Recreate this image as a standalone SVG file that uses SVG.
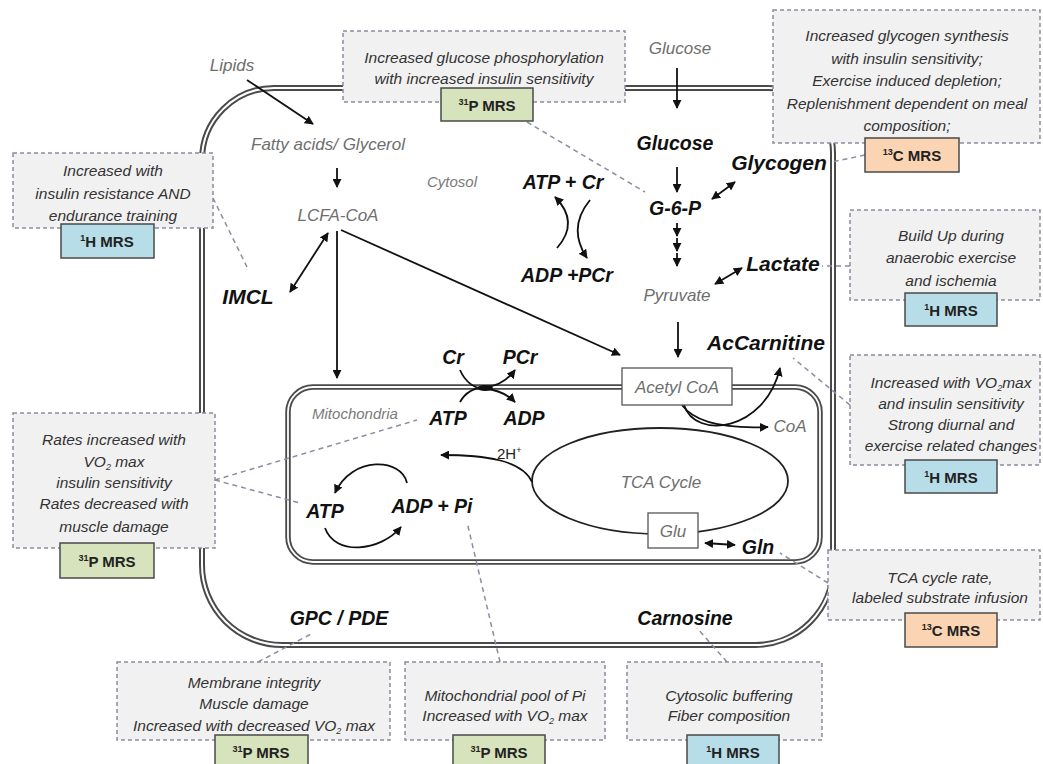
<svg xmlns="http://www.w3.org/2000/svg" width="1043" height="764" viewBox="0 0 1043 764">
<defs>
<marker id="ah" viewBox="0 0 10 10" refX="9" refY="5" markerWidth="5" markerHeight="5" orient="auto-start-reverse" markerUnits="strokeWidth">
<path d="M0,0 L10,5 L0,10 z" fill="#111"/>
</marker>
</defs>
<style>
.mem{fill:none;stroke:#4a4a4a;stroke-width:6}
.memin{fill:none;stroke:#fff;stroke-width:2}
.mito{fill:none;stroke:#4a4a4a;stroke-width:5.5}
.mitoin{fill:none;stroke:#fff;stroke-width:1.8}
.box{fill:#f1f1f1;stroke:#8c8ca0;stroke-width:1.5;stroke-dasharray:4 3}
.bt{font-family:"Liberation Sans",Arial,sans-serif;font-style:italic;font-size:15.5px;fill:#333;text-anchor:middle}
.badge{stroke:#4a4a4a;stroke-width:1.5}
.green{fill:#d6e3bc}
.blue{fill:#b7dde8}
.orange{fill:#fbd4b4}
.bl{font-family:"Liberation Sans",Arial,sans-serif;font-weight:bold;font-size:15px;fill:#222;text-anchor:middle}
.dash{fill:none;stroke:#8c8ca4;stroke-width:1.5;stroke-dasharray:5 4}
.arr{fill:none;stroke:#111;stroke-width:1.8}
.g{font-family:"Liberation Sans",Arial,sans-serif;font-style:italic;font-size:17px;fill:#6e6e6e;text-anchor:middle}
.gs{font-family:"Liberation Sans",Arial,sans-serif;font-style:italic;font-size:15px;fill:#7a7a7a;text-anchor:middle}
.k{font-family:"Liberation Sans",Arial,sans-serif;font-style:italic;font-weight:bold;font-size:19.5px;fill:#111;text-anchor:middle}
.kl{font-size:21px}
.lb{fill:#fff;stroke:#555;stroke-width:1.3}
</style>

<!-- membranes -->
<g id="cell">
<path class="mem" d="M 202 160 A 72 72 0 0 1 274 88 L 768 88 A 65 65 0 0 1 833 153 L 833 567 A 78 78 0 0 1 755 645 L 282 645 A 80 80 0 0 1 202 565 Z"/>
<path class="memin" d="M 202 160 A 72 72 0 0 1 274 88 L 768 88 A 65 65 0 0 1 833 153 L 833 567 A 78 78 0 0 1 755 645 L 282 645 A 80 80 0 0 1 202 565 Z"/>
</g>
<g id="mitochondrion">
<rect class="mito" x="288" y="387" width="532" height="175" rx="25"/>
<rect class="mitoin" x="288" y="387" width="532" height="175" rx="25"/>
<ellipse id="tca" cx="660" cy="481" rx="128" ry="53" fill="none" stroke="#222" stroke-width="1.8"/>
</g>

<!-- connectors -->
<g id="connectors">
<line class="dash" x1="527" y1="122" x2="645" y2="192"/>
<line class="dash" x1="865" y1="155" x2="832" y2="162"/>
<line class="dash" x1="213" y1="198" x2="247" y2="267"/>
<line class="dash" x1="850" y1="266" x2="822" y2="266"/>
<line class="dash" x1="850" y1="405" x2="793" y2="358"/>
<line class="dash" x1="828" y1="583" x2="780" y2="553"/>
<line class="dash" x1="215" y1="480" x2="417" y2="420"/>
<line class="dash" x1="215" y1="480" x2="300" y2="503"/>
<line class="dash" x1="258" y1="662" x2="313" y2="633"/>
<line class="dash" x1="500" y1="662" x2="467" y2="522"/>
<line class="dash" x1="727" y1="662" x2="697" y2="628"/>

<line class="arr" x1="247" y1="80" x2="313" y2="124" marker-end="url(#ah)"/>
<line class="arr" x1="337" y1="168" x2="337" y2="187" marker-end="url(#ah)"/>
<line class="arr" x1="328" y1="233" x2="290" y2="292" marker-start="url(#ah)" marker-end="url(#ah)"/>
<line class="arr" x1="337" y1="231" x2="337" y2="378" marker-end="url(#ah)"/>
<line class="arr" x1="341" y1="230" x2="620" y2="355" marker-end="url(#ah)"/>
<line class="arr" x1="677" y1="68" x2="677" y2="108" marker-end="url(#ah)"/>
<line class="arr" x1="677" y1="167" x2="677" y2="192" marker-end="url(#ah)"/>
<line class="arr" x1="712" y1="199" x2="735" y2="182" marker-start="url(#ah)" marker-end="url(#ah)"/>
<line class="arr" x1="677" y1="223" x2="677" y2="236" marker-end="url(#ah)"/>
<line class="arr" x1="677" y1="238" x2="677" y2="251" marker-end="url(#ah)"/>
<line class="arr" x1="677" y1="253" x2="677" y2="266" marker-end="url(#ah)"/>
<line class="arr" x1="715" y1="284" x2="742" y2="268" marker-start="url(#ah)" marker-end="url(#ah)"/>
<line class="arr" x1="678" y1="322" x2="678" y2="357" marker-end="url(#ah)"/>
<path class="arr" d="M 682 405 Q 700 430 768 427" marker-end="url(#ah)"/>
<path class="arr" d="M 684 405 C 695 440, 765 432, 780 368" marker-end="url(#ah)"/>
<path class="arr" d="M 532 482 C 522 460, 485 455, 441 455" marker-end="url(#ah)"/>
<path class="arr" d="M 460 370 Q 468 388 485 389 Q 503 390 515 402" marker-end="url(#ah)"/>
<path class="arr" d="M 460 402 Q 468 388 485 387 Q 503 386 515 370" marker-end="url(#ah)"/>
<ellipse cx="485" cy="388" rx="8" ry="3" fill="#111"/>
<path class="arr" d="M 407 483 C 402 458, 352 455, 335 493" marker-end="url(#ah)"/>
<path class="arr" d="M 325 528 C 335 556, 380 552, 401 527" marker-end="url(#ah)"/>
<path class="arr" d="M 557 248 Q 580 222 555 197" marker-end="url(#ah)"/>
<path class="arr" d="M 590 200 Q 567 228 587 258" marker-end="url(#ah)"/>
<line class="arr" x1="705" y1="543" x2="735" y2="545" marker-start="url(#ah)" marker-end="url(#ah)"/>
</g>

<!-- metabolite labels -->
<g id="lipids"><text class="g" x="232" y="71" font-size="17.5">Lipids</text></g>
<g id="fatty-acids"><text class="g" x="328" y="150" font-size="17.5">Fatty acids/ Glycerol</text></g>
<g id="lcfa-coa"><text class="g" x="338" y="221" font-size="16.5">LCFA-CoA</text></g>
<g id="cytosol"><text class="gs" x="452" y="187">Cytosol</text></g>
<g id="imcl"><text class="k kl" x="248" y="304">IMCL</text></g>
<g id="atp-cr"><text class="k" x="563" y="189">ATP + Cr</text></g>
<g id="adp-pcr"><text class="k" x="567" y="282">ADP +PCr</text></g>
<g id="glucose-ext"><text class="g" x="680" y="54" font-size="17.5">Glucose</text></g>
<g id="glucose"><text class="k" x="675" y="150" font-size="20">Glucose</text></g>
<g id="g6p"><text class="k" x="675" y="215" font-size="20">G-6-P</text></g>
<g id="glycogen"><text class="k kl" x="779" y="170">Glycogen</text></g>
<g id="pyruvate"><text class="g" x="677" y="301">Pyruvate</text></g>
<g id="lactate"><text class="k kl" x="783" y="271">Lactate</text></g>
<g id="accarnitine"><text class="k kl" x="766" y="350">AcCarnitine</text></g>
<g id="acetyl-coa"><rect class="lb" x="622" y="368" width="110" height="37"/><text class="g" x="677" y="393" font-size="17.5">Acetyl CoA</text></g>
<g id="coa"><text class="g" x="790" y="432" font-size="15.5">CoA</text></g>
<g id="tca-label"><text class="g" x="661" y="488" font-size="16.5">TCA Cycle</text></g>
<g id="glu"><rect class="lb" x="648" y="513" width="50" height="35"/><text class="g" x="673" y="537" font-size="15">Glu</text></g>
<g id="gln"><text class="k" x="758" y="554" font-size="20">Gln</text></g>
<g id="h2"><text x="497" y="459" font-family="Liberation Sans, Arial, sans-serif" font-size="15" fill="#222">2H<tspan font-size="9" dy="-6">+</tspan></text></g>
<g id="mito-label"><text class="gs" x="355" y="419" font-size="16.5">Mitochondria</text></g>
<g id="cr"><text class="k" x="453" y="364">Cr</text></g>
<g id="pcr"><text class="k" x="520" y="364">PCr</text></g>
<g id="atp-mito"><text class="k" x="448" y="425">ATP</text></g>
<g id="adp-mito"><text class="k" x="524" y="425">ADP</text></g>
<g id="atp-lower"><text class="k" x="325" y="518">ATP</text></g>
<g id="adp-pi"><text class="k" x="432" y="513">ADP + Pi</text></g>
<g id="gpc-pde"><text class="k" x="339" y="625">GPC / PDE</text></g>
<g id="carnosine"><text class="k" x="685" y="625" font-size="20">Carnosine</text></g>

<!-- annotation boxes -->
<g id="box-glucose-phos">
<rect class="box" x="343" y="31" width="282" height="71"/>
<text class="bt" x="484" y="63">Increased glucose phosphorylation</text>
<text class="bt" x="484" y="84">with increased insulin sensitivity</text>
<rect class="badge green" x="441" y="88" width="92" height="33"/>
<text class="bl" x="487" y="111"><tspan font-size="9" dy="-6">31</tspan><tspan dy="6">P MRS</tspan></text>
</g>
<g id="box-glycogen">
<rect class="box" x="773" y="10" width="267" height="133"/>
<text class="bt" x="907" y="41">Increased glycogen synthesis</text>
<text class="bt" x="907" y="64">with insulin sensitivity;</text>
<text class="bt" x="907" y="86">Exercise induced depletion;</text>
<text class="bt" x="907" y="109">Replenishment dependent on meal</text>
<text class="bt" x="907" y="131">composition;</text>
<rect class="badge orange" x="865" y="138" width="94" height="34"/>
<text class="bl" x="912" y="161"><tspan font-size="9" dy="-6">13</tspan><tspan dy="6">C MRS</tspan></text>
</g>
<g id="box-imcl">
<rect class="box" x="13" y="153" width="200" height="75"/>
<text class="bt" x="113" y="176">Increased with</text>
<text class="bt" x="113" y="199">insulin resistance AND</text>
<text class="bt" x="113" y="221">endurance training</text>
<rect class="badge blue" x="61" y="224" width="93" height="34"/>
<text class="bl" x="107" y="247"><tspan font-size="9" dy="-6">1</tspan><tspan dy="6">H MRS</tspan></text>
</g>
<g id="box-lactate">
<rect class="box" x="850" y="210" width="190" height="90"/>
<text class="bt" x="951" y="241">Build Up during</text>
<text class="bt" x="951" y="263">anaerobic exercise</text>
<text class="bt" x="951" y="286">and ischemia</text>
<rect class="badge blue" x="905" y="293" width="92" height="33"/>
<text class="bl" x="951" y="316"><tspan font-size="9" dy="-6">1</tspan><tspan dy="6">H MRS</tspan></text>
</g>
<g id="box-accarnitine">
<rect class="box" x="850" y="355" width="190" height="110"/>
<text class="bt" x="951" y="388">Increased with VO<tspan font-size="9" dy="3">2</tspan><tspan dy="-3">max</tspan></text>
<text class="bt" x="951" y="409">and insulin sensitivity</text>
<text class="bt" x="951" y="430">Strong diurnal and</text>
<text class="bt" x="951" y="451">exercise related changes</text>
<rect class="badge blue" x="905" y="460" width="92" height="33"/>
<text class="bl" x="951" y="483"><tspan font-size="9" dy="-6">1</tspan><tspan dy="6">H MRS</tspan></text>
</g>
<g id="box-tca">
<rect class="box" x="828" y="550" width="212" height="70"/>
<text class="bt" x="940" y="583">TCA cycle rate,</text>
<text class="bt" x="940" y="603">labeled substrate infusion</text>
<rect class="badge orange" x="905" y="613" width="92" height="34"/>
<text class="bl" x="951" y="636"><tspan font-size="9" dy="-6">13</tspan><tspan dy="6">C MRS</tspan></text>
</g>
<g id="box-atp">
<rect class="box" x="13" y="413" width="202" height="135"/>
<text class="bt" x="114" y="445">Rates increased with</text>
<text class="bt" x="114" y="467">VO<tspan font-size="9" dy="3">2</tspan><tspan dy="-3"> max</tspan></text>
<text class="bt" x="114" y="488">insulin sensitivity</text>
<text class="bt" x="114" y="509">Rates decreased with</text>
<text class="bt" x="114" y="532">muscle damage</text>
<rect class="badge green" x="60" y="543" width="94" height="35"/>
<text class="bl" x="107" y="567"><tspan font-size="9" dy="-6">31</tspan><tspan dy="6">P MRS</tspan></text>
</g>
<g id="box-gpc">
<rect class="box" x="117" y="662" width="273" height="78"/>
<text class="bt" x="254" y="688">Membrane integrity</text>
<text class="bt" x="254" y="709">Muscle damage</text>
<text class="bt" x="254" y="731">Increased with decreased VO<tspan font-size="9" dy="3">2</tspan><tspan dy="-3"> max</tspan></text>
<rect class="badge green" x="215" y="735" width="93" height="36"/>
<text class="bl" x="261" y="758"><tspan font-size="9" dy="-6">31</tspan><tspan dy="6">P MRS</tspan></text>
</g>
<g id="box-pi">
<rect class="box" x="405" y="662" width="200" height="78"/>
<text class="bt" x="505" y="701">Mitochondrial pool of Pi</text>
<text class="bt" x="505" y="721">Increased with VO<tspan font-size="9" dy="3">2</tspan><tspan dy="-3"> max</tspan></text>
<rect class="badge green" x="453" y="735" width="92" height="36"/>
<text class="bl" x="499" y="758"><tspan font-size="9" dy="-6">31</tspan><tspan dy="6">P MRS</tspan></text>
</g>
<g id="box-carnosine">
<rect class="box" x="627" y="662" width="195" height="78"/>
<text class="bt" x="729" y="701">Cytosolic buffering</text>
<text class="bt" x="729" y="721">Fiber composition</text>
<rect class="badge blue" x="687" y="735" width="92" height="36"/>
<text class="bl" x="733" y="758"><tspan font-size="9" dy="-6">1</tspan><tspan dy="6">H MRS</tspan></text>
</g>
</svg>
